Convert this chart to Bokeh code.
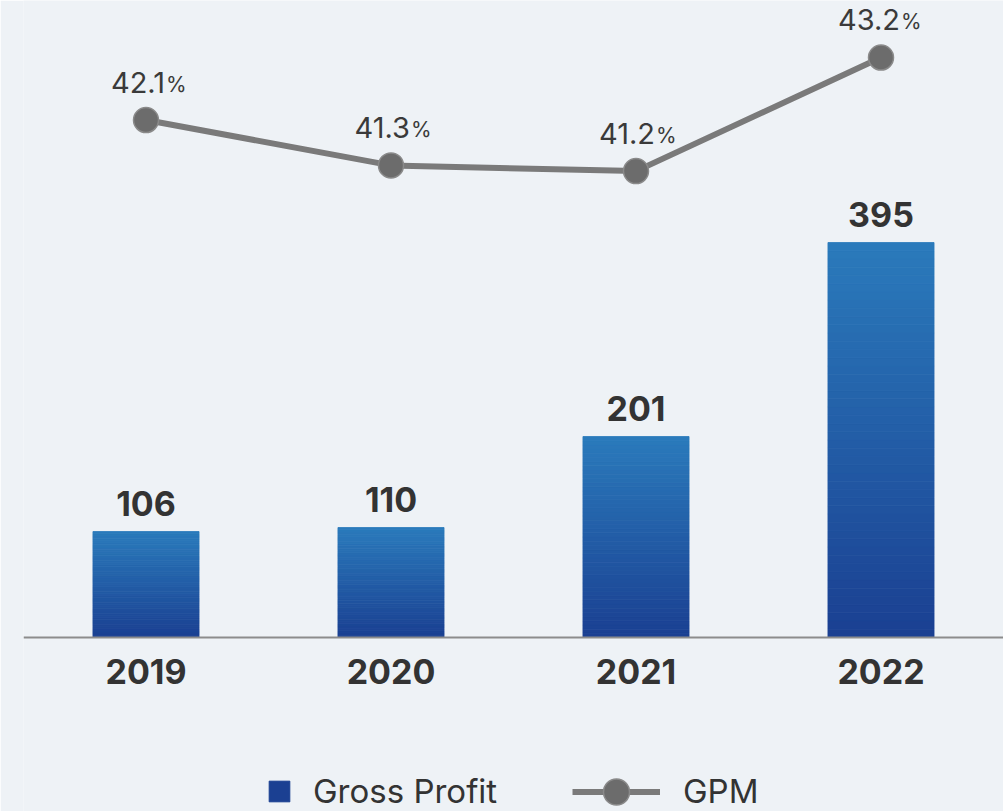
from bokeh.plotting import figure
from bokeh.models import FactorRange, Range1d, Span, Legend, LegendItem
from bokeh.core.properties import value
from bokeh.embed import file_html
from bokeh.resources import INLINE

years = ["2019", "2020", "2021", "2022"]
gross_profit = [106, 110, 201, 395]
gpm = [42.1, 41.3, 41.2, 43.2]
gpm_labels = ["42.1", "41.3", "41.2", "43.2"]

FONT = "Inter"
BG = "#eef2f6"
TOP_RGB = (43, 123, 188)
BOT_RGB = (27, 64, 146)

p = figure(width=1003, height=811, x_range=FactorRange(factors=years, range_padding=0),
           y_range=Range1d(-174, 637), x_axis_location=None, y_axis_location=None,
           toolbar_location=None, output_backend="svg",
           min_border_left=23, min_border_right=0, min_border_top=0, min_border_bottom=0)
p.extra_y_ranges = {"gpm": Range1d(29.92, 44.205)}
p.grid.visible = False
p.outline_line_color = None
p.background_fill_color = BG
p.border_fill_color = BG

# gradient bars built from stacked slices of each value
K = 48
xs, bots, tops, cols = [], [], [], []
for yr, v in zip(years, gross_profit):
    for i in range(K):
        t = (i + 0.5) / K
        r = int(BOT_RGB[0] + (TOP_RGB[0] - BOT_RGB[0]) * t)
        g = int(BOT_RGB[1] + (TOP_RGB[1] - BOT_RGB[1]) * t)
        b = int(BOT_RGB[2] + (TOP_RGB[2] - BOT_RGB[2]) * t)
        xs.append(yr)
        bots.append(v * i / K)
        tops.append(v * (i + 1) / K)
        cols.append("#%02x%02x%02x" % (r, g, b))
bar_r = p.vbar(x=xs, bottom=bots, top=tops, width=0.433, fill_color=cols, line_color=cols,
               line_width=0.8)

# baseline
p.add_layout(Span(location=0, dimension="width", line_color="#8c8c8c", line_width=2))

# bar value labels
p.text(x=years, y=gross_profit, text=[str(v) for v in gross_profit], y_offset=-28,
       text_align="center", text_baseline="middle", text_font=value(FONT),
       text_font_style="bold", text_font_size="34px", text_color="#333333")

# year labels
p.text(x=years, y=[0] * 4, text=years, y_offset=34, text_align="center", text_baseline="middle",
       text_font=value(FONT), text_font_style="bold", text_font_size="34px", text_color="#333333")

# GPM line
line_r = p.line(x=years, y=gpm, y_range_name="gpm", line_color="#7a7a7a", line_width=6)
dot_r = p.scatter(x=years, y=gpm, y_range_name="gpm", size=25, marker="circle",
                  fill_color="#6c6c6c", line_color="#8a8a8a", line_width=1.5)

p.text(x=years, y=gpm, y_range_name="gpm", text=gpm_labels, y_offset=-38, x_offset=19,
       text_align="right", text_baseline="middle", text_font=value(FONT),
       text_font_size="29px", text_color="#3a3a3a")
p.text(x=years, y=gpm, y_range_name="gpm", text=["%"] * 4, y_offset=-36, x_offset=20,
       text_align="left", text_baseline="middle", text_font=value(FONT),
       text_font_size="21px", text_color="#3a3a3a")

# legend
leg1 = Legend(items=[LegendItem(label="Gross Profit", renderers=[bar_r], index=0)],
              location=(243, 0), orientation="horizontal", glyph_width=26, glyph_height=26,
              label_standoff=21, padding=0, margin=0, border_line_color=None,
              background_fill_alpha=0, label_text_font=FONT, label_text_font_size="33px",
              label_text_color="#333333")
leg2 = Legend(items=[LegendItem(label="GPM", renderers=[line_r, dot_r])],
              location=(549, -12.5), orientation="horizontal", glyph_width=88, glyph_height=65,
              label_standoff=23, padding=0, margin=0, border_line_color=None,
              background_fill_alpha=0, label_text_font=FONT, label_text_font_size="33px",
              label_text_color="#333333")
p.add_layout(leg1, "center")
p.add_layout(leg2, "center")

html = file_html(p, INLINE)
html = html.replace("<body>", '<body style="background:%s">' % BG, 1)
open("out.html", "w").write(html)
